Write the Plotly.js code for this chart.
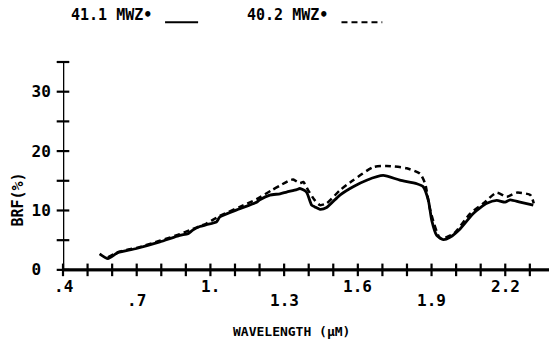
<!DOCTYPE html>
<html>
<head>
<meta charset="utf-8">
<script src="https://cdn.plot.ly/plotly-3.0.1.min.js"></script>
<style>
  html, body { margin: 0; padding: 0; background: #ffffff; }
  #chart { width: 549px; height: 343px; }
</style>
</head>
<body>
<div id="chart"></div>
<script>
// Bidirectional reflectance factor spectra for two view angles.
const wl41 = [0.549, 0.583, 0.623, 0.699, 0.794, 0.875, 0.909, 0.928, 0.957, 0.984, 1.025, 1.038, 1.12, 1.188, 1.201, 1.242, 1.283, 1.31, 1.351, 1.364, 1.391, 1.412, 1.425, 1.446, 1.473, 1.527, 1.581, 1.636, 1.703, 1.771, 1.84, 1.866, 1.887, 1.901, 1.921, 1.948, 1.975, 2.016, 2.07, 2.125, 2.165, 2.199, 2.22, 2.26, 2.314];
const brf41 = [2.7, 1.9, 2.9, 3.6, 4.7, 5.8, 6.1, 6.7, 7.3, 7.6, 8.1, 8.9, 10.3, 11.4, 11.8, 12.6, 12.8, 13.1, 13.5, 13.7, 13.1, 10.9, 10.6, 10.2, 10.5, 12.6, 14.0, 15.1, 15.9, 15.1, 14.5, 14.0, 11.7, 8.3, 5.8, 5.1, 5.5, 6.9, 9.5, 11.2, 11.7, 11.4, 11.8, 11.4, 10.9];

const wl40 = [0.583, 0.623, 0.699, 0.794, 0.875, 0.928, 0.984, 1.038, 1.12, 1.188, 1.249, 1.283, 1.324, 1.337, 1.364, 1.378, 1.398, 1.425, 1.446, 1.473, 1.527, 1.581, 1.663, 1.717, 1.799, 1.853, 1.874, 1.895, 1.936, 1.99, 2.058, 2.111, 2.165, 2.206, 2.247, 2.302, 2.316];
const brf40 = [2.1, 3.0, 3.7, 4.9, 6.0, 6.9, 7.8, 9.1, 10.6, 11.9, 13.4, 14.2, 15.1, 15.2, 14.6, 14.8, 13.4, 11.7, 10.9, 11.2, 13.4, 15.1, 17.3, 17.5, 17.1, 16.2, 14.5, 10.0, 5.3, 6.1, 9.5, 11.2, 13.0, 12.3, 13.0, 12.6, 11.2];

// Axis ticks: a cross every 0.1 um, labels staggered on two rows.
const xTickVals = [0.4, 0.5, 0.6, 0.7, 0.8, 0.9, 1.0, 1.1, 1.2, 1.3, 1.4, 1.5, 1.6, 1.7, 1.8, 1.9, 2.0, 2.1, 2.2, 2.3];
const xTickTextUpper = ['.4', '', '', '', '', '', '1.', '', '', '', '', '', '1.6', '', '', '', '', '', '2.2', ''];
const xTickTextLower = ['', '', '', '.7', '', '', '', '', '', '1.3', '', '', '', '', '', '1.9', '', '', '', ''];
const yTickVals = [0, 5, 10, 15, 20, 25, 30, 35];
const yTickText = ['0\u00a0', '', '10', '', '20', '', '30', ''];

const seriesNames = ['41.1 MWZ\u2022', '40.2 MWZ\u2022'];

const FONT = 'DejaVu Sans Mono, monospace';
const xRange = [0.4, 2.378];
const yRange = [-1.2, 35];

const traces = [
  {
    x: wl41, y: brf41, type: 'scatter', mode: 'lines', name: seriesNames[0],
    line: { color: '#000', width: 2.8, shape: 'spline', smoothing: 0.6 },
    hoverinfo: 'skip'
  },
  {
    x: wl40, y: brf40, type: 'scatter', mode: 'lines', name: seriesNames[1],
    line: { color: '#000', width: 2.5, dash: '6px,4px', shape: 'spline', smoothing: 0.6 },
    hoverinfo: 'skip'
  },
  // horizontal axis at zero reflectance
  {
    x: xRange, y: [0, 0], type: 'scatter', mode: 'lines',
    line: { color: '#000', width: 2.6 }, hoverinfo: 'skip'
  },
  // crosses on the horizontal axis
  {
    x: xTickVals, y: xTickVals.map(() => 0), type: 'scatter', mode: 'markers',
    marker: { symbol: 'line-ns', size: 9, color: '#000', line: { color: '#000', width: 2.2 } },
    cliponaxis: false, hoverinfo: 'skip'
  },
  // crosses on the vertical axis
  {
    x: yTickVals.map(() => xRange[0]), y: yTickVals, type: 'scatter', mode: 'markers',
    marker: { symbol: 'line-ew', size: 9, color: '#000', line: { color: '#000', width: 2.2 } },
    cliponaxis: false, hoverinfo: 'skip'
  }
];

// staggered wavelength labels under the horizontal axis
function rowLabels(texts, shift) {
  return xTickVals.map((v, i) => ({
    text: texts[i], x: v, xref: 'x', y: 0, yref: 'y', yshift: shift,
    showarrow: false, xanchor: 'center', yanchor: 'middle',
    font: { family: FONT, size: 16, color: '#000', weight: 'bold' }
  })).filter(a => a.text);
}

const layout = {
  width: 549, height: 343,
  margin: { l: 63, r: 0, t: 62, b: 66 },
  paper_bgcolor: '#fff', plot_bgcolor: 'rgba(0,0,0,0)',
  showlegend: false,
  font: { family: FONT, color: '#000', size: 15 },
  xaxis: {
    range: xRange, showgrid: false, zeroline: false, showline: false,
    showticklabels: false, ticks: '', fixedrange: true
  },
  yaxis: {
    range: yRange, showgrid: false, zeroline: false, showline: false,
    ticks: 'outside', ticklen: 8, tickcolor: 'rgba(0,0,0,0)',
    tickmode: 'array', tickvals: yTickVals, ticktext: yTickText,
    tickfont: { family: FONT, size: 16, color: '#000', weight: 'bold' },
    fixedrange: true
  },
  annotations: rowLabels(xTickTextUpper, -17).concat(rowLabels(xTickTextLower, -31), [
    {
      text: 'BRF(%)', xref: 'paper', yref: 'paper',
      x: 0, y: 0.36, xshift: -45, textangle: -90,
      showarrow: false, xanchor: 'center', yanchor: 'middle',
      font: { family: FONT, size: 15, color: '#000', weight: 'bold' }
    },
    {
      text: 'WAVELENGTH (\u03bcM)', xref: 'paper', yref: 'paper',
      x: 0.47, y: 0, yshift: -54,
      showarrow: false, xanchor: 'center', yanchor: 'middle',
      font: { family: FONT, size: 13, color: '#000', weight: 'bold' }
    },
    {
      text: seriesNames[0], xref: 'paper', yref: 'paper',
      x: 0.013, y: 1, yshift: 47,
      showarrow: false, xanchor: 'left', yanchor: 'middle',
      font: { family: FONT, size: 15, color: '#000', weight: 'bold' }
    },
    {
      text: seriesNames[1], xref: 'paper', yref: 'paper',
      x: 0.375, y: 1, yshift: 47,
      showarrow: false, xanchor: 'left', yanchor: 'middle',
      font: { family: FONT, size: 15, color: '#000', weight: 'bold' }
    }
  ]),
  shapes: [
    // vertical axis from zero to the top of the range
    { type: 'line', xref: 'x', yref: 'y', x0: xRange[0], x1: xRange[0], y0: 0, y1: yRange[1],
      line: { color: '#000', width: 2.6 } },
    // horizontal axis at zero
    { type: 'line', xref: 'paper', yref: 'y', x0: 0, x1: 1, y0: 0, y1: 0,
      line: { color: '#000', width: 2.6 }, layer: 'above' },
    // legend line samples
    { type: 'line', xref: 'paper', yref: 'paper', x0: 0.210, x1: 0.278, y0: 1.185, y1: 1.185,
      line: { color: '#000', width: 2 } },
    { type: 'line', xref: 'paper', yref: 'paper', x0: 0.573, x1: 0.657, y0: 1.185, y1: 1.185,
      line: { color: '#000', width: 2, dash: '6px,4px' } }
  ]
};

Plotly.newPlot('chart', traces, layout, { staticPlot: true, displayModeBar: false });
</script>
</body>
</html>
